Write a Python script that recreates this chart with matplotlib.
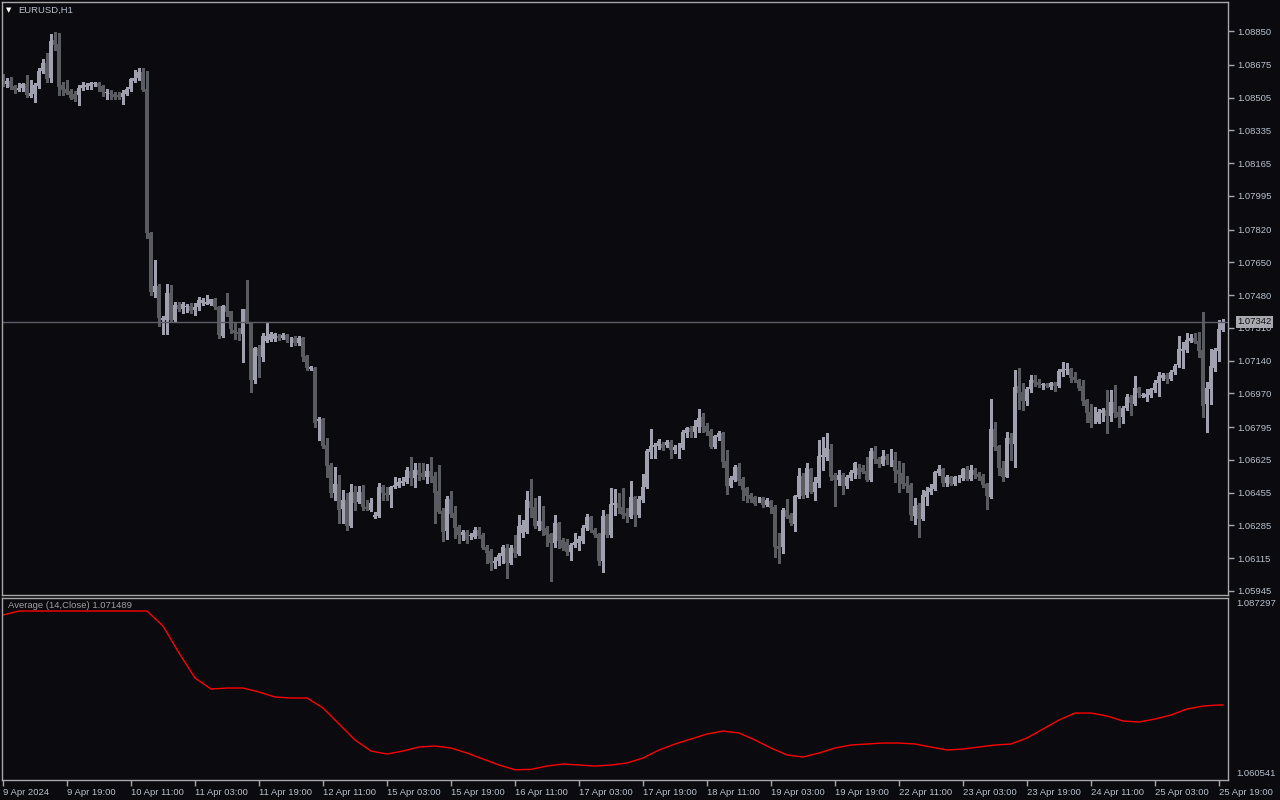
import matplotlib
matplotlib.use('Agg')
import matplotlib.pyplot as plt
import numpy as np

#----------------------------------------------------------
# EURUSD H1 candles, prices in points (x 1e-5)
opens=[108609,108575,108590,108564,108544,108556,108573,108512,108521,108564,
	108644,108685,108604,108803,108782,108570,108547,108540,108523,108518,
	108557,108561,108564,108575,108582,108564,108530,108530,108523,108518,
	108509,108526,108547,108592,108604,108639,108547,107803,107497,107526,
	107350,107350,107488,107350,107428,107410,107416,107423,107402,107416,
	107440,107436,107436,107457,107419,107269,107423,107397,107298,107289,
	107276,107405,107336,107039,107203,107160,107243,107246,107250,107267,
	107255,107272,107251,107255,107232,107255,107163,107097,107099,106827,
	106834,106701,106597,106454,106499,106367,106416,106281,106459,106407,
	106459,106381,106364,106329,106333,106485,106454,106442,106481,106488,
	106506,106511,106567,106529,106572,106554,106534,106568,106541,106463,
	106359,106257,106421,106347,106274,106234,106252,106229,106226,106260,
	106234,106170,106151,106087,106100,106126,106165,106091,106165,106136,
	106247,106252,106411,106381,106281,106307,106269,106240,106195,106298,
	106209,106200,106148,106183,106195,106205,106269,106330,106260,106240,
	106101,106333,106234,106390,106399,106378,106347,106330,106430,106338,
	106416,106485,106667,106693,106696,106707,106702,106719,106676,106684,
	106688,106766,106792,106771,106797,106849,106800,106774,106689,106745,
	106766,106620,106489,106520,106589,106523,106477,106442,106430,106420,
	106425,106390,106411,106378,106179,106170,106364,106338,106292,106433,
	106541,106440,106577,106459,106506,106638,106641,106679,106546,106520,
	106546,106489,106532,106554,106580,106584,106567,106520,106672,106631,
	106603,106646,106627,106624,106572,106558,106506,106494,106333,106390,
	106316,106433,106458,106473,106558,106577,106502,106537,106499,106528,
	106528,106577,106525,106572,106551,106541,106499,106433,106784,106696,
	106580,106537,106739,106707,107008,106977,106932,106990,107039,107028,
	107015,107018,107004,107023,107008,107082,107091,107098,107053,107039,
	107008,106935,106874,106825,106823,106870,106883,106852,106926,106874,
	106849,106892,106952,106914,106996,106957,106952,106961,106987,107022,
	107047,107065,107042,107082,107117,107191,107194,107243,107255,107241,
	107194,106914,106992,107103,107191,107298]
highs=[108627,108604,108613,108570,108578,108582,108621,108595,108578,108656,
	108703,108734,108834,108846,108838,108587,108595,108552,108540,108570,
	108587,108578,108587,108587,108587,108570,108552,108544,108535,108535,
	108544,108561,108604,108647,108656,108656,108644,107808,107661,107537,
	107371,107537,107532,107445,107445,107445,107433,107440,107440,107468,
	107466,107480,107462,107466,107423,107428,107488,107398,107333,107307,
	107405,107557,107341,107212,107220,107284,107333,107289,107284,107277,
	107281,107277,107263,107267,107267,107260,107168,107111,107108,106848,
	106840,106736,106606,106585,106545,106468,106454,106499,106488,106488,
	106494,106416,106424,106355,106506,106494,106485,106488,106537,106528,
	106537,106585,106641,106606,106610,106610,106603,106638,106563,106598,
	106373,106437,106463,106385,106286,106260,106260,106243,106274,106274,
	106243,106183,106160,106122,106143,106183,106188,106183,106234,106338,
	106312,106463,106523,106428,106437,106385,106281,106247,106338,106304,
	106217,106212,106191,106243,106229,106286,106343,106333,106269,106247,
	106364,106343,106477,106471,106451,106477,106373,106516,106437,106437,
	106551,106679,106783,106714,106731,106719,106727,106727,106702,106710,
	106779,106797,106800,106831,106887,106866,106814,106783,106753,106776,
	106771,106676,106541,106598,106610,106534,106485,106451,106437,106433,
	106433,106425,106416,106390,106247,106373,106421,106347,106442,106580,
	106554,106610,106580,106537,106727,106745,106762,106707,106554,106572,
	106554,106546,106572,106615,106603,106598,106641,106684,106696,106637,
	106676,106655,106679,106663,106620,106606,106541,106502,106425,106402,
	106468,106485,106499,106568,106598,106580,106546,106542,106541,106546,
	106584,106594,106598,106580,106563,106551,106506,106940,106823,106702,
	106618,106771,106762,107091,107099,107022,107004,107065,107065,107042,
	107025,107025,107030,107030,107094,107134,107125,107103,107082,107046,
	107039,106939,106914,106900,106887,106892,106987,106987,107013,106904,
	106904,106964,106961,107060,107001,106970,106990,106996,107039,107082,
	107073,107073,107091,107122,107267,107238,107281,107278,107284,107290,
	107390,107030,107198,107203,107350,107354]
lows=[108564,108561,108552,108531,108538,108540,108509,108506,108483,108557,
	108630,108587,108587,108751,108518,108518,108523,108500,108488,108466,
	108544,108547,108552,108564,108538,108514,108500,108500,108495,108500,
	108471,108518,108540,108587,108595,108540,107774,107480,107471,107319,
	107277,107277,107341,107341,107398,107385,107393,107385,107376,107402,
	107428,107431,107428,107410,107255,107263,107371,107281,107250,107246,
	107134,107333,106978,107021,107056,107139,107237,107243,107243,107246,
	107250,107237,107215,107220,107220,107139,107090,107090,106793,106727,
	106684,106537,106430,106416,106298,106295,106260,106274,106364,106398,
	106364,106364,106360,106321,106329,106416,106416,106381,106476,106481,
	106494,106502,106494,106482,106520,106523,106503,106511,106298,106347,
	106205,106212,106330,106217,106191,106209,106195,106212,106217,106217,
	106160,106087,106053,106061,106079,106087,106010,106084,106122,106131,
	106226,106243,106330,106269,106260,106234,106177,105997,106174,106165,
	106157,106131,106105,106174,106157,106191,106260,106252,106226,106079,
	106044,106226,106226,106338,106347,106321,106304,106321,106281,106330,
	106407,106477,106632,106632,106679,106676,106689,106632,106658,106632,
	106679,106745,106745,106745,106771,106771,106753,106684,106684,106728,
	106586,106447,106482,106516,106494,106416,106407,106407,106390,106407,
	106381,106385,106347,106122,106091,106139,106321,106286,106257,106425,
	106425,106433,106451,106416,106485,106572,106624,106520,106385,106494,
	106447,106477,106520,106529,106529,106554,106516,106516,106606,106589,
	106598,106603,106593,106511,106459,106477,106459,106312,106291,106226,
	106312,106390,106447,106468,106546,106489,106489,106494,106494,106511,
	106520,106520,106520,106529,106520,106482,106368,106425,106676,106546,
	106515,106534,106624,106589,106887,106883,106909,106978,107008,107001,
	106990,107001,106990,106983,107001,107060,107070,107030,107030,106987,
	106909,106823,106793,106817,106814,106828,106765,106828,106849,106797,
	106817,106883,106857,106909,106952,106949,106932,106952,106978,106956,
	107039,107022,107039,107070,107108,107099,107186,107238,107229,107160,
	106845,106771,106914,107087,107139,107295]
closes=[108578,108590,108561,108544,108557,108573,108518,108530,108570,108644,
	108685,108599,108798,108777,108561,108544,108530,108504,108500,108557,
	108570,108570,108578,108578,108561,108535,108531,108523,108509,108509,
	108530,108547,108599,108609,108639,108544,107800,107497,107526,107359,
	107359,107488,107350,107428,107405,107433,107423,107398,107419,107454,
	107454,107445,107457,107416,107272,107423,107393,107302,107284,107276,
	107405,107336,107039,107203,107163,107267,107267,107277,107277,107255,
	107272,107246,107251,107232,107255,107160,107099,107104,106814,106834,
	106696,106592,106454,106499,106364,106416,106281,106459,106402,106459,
	106381,106367,106402,106338,106485,106450,106442,106485,106494,106511,
	106516,106571,106529,106572,106546,106537,106568,106534,106454,106356,
	106252,106421,106343,106272,106234,106252,106209,106230,106260,106231,
	106169,106139,106087,106100,106131,106170,106091,106165,106139,106281,
	106286,106416,106373,106281,106307,106260,106234,106191,106295,106205,
	106165,106148,106183,106200,106214,106272,106330,106260,106234,106101,
	106333,106234,106395,106399,106373,106338,106333,106430,106338,106420,
	106485,106670,106696,106702,106722,106684,106719,106676,106693,106685,
	106771,106792,106771,106800,106843,106793,106771,106693,106748,106766,
	106615,106489,106532,106589,106516,106468,106437,106420,106395,106420,
	106390,106416,106373,106174,106162,106364,106330,106295,106437,106541,
	106437,106580,106456,106511,106644,106650,106688,106537,106520,106546,
	106489,106537,106563,106610,106546,106563,106520,106672,106627,106603,
	106644,106624,106627,106568,106551,106499,106489,106338,106385,106316,
	106442,106463,106477,106563,106577,106502,106537,106499,106537,106529,
	106577,106525,106572,106546,106534,106494,106437,106784,106693,106580,
	106537,106739,106707,107001,106973,106932,106992,107039,107025,107013,
	107018,107008,107025,107008,107087,107094,107091,107047,107039,106996,
	106932,106869,106817,106828,106874,106883,106852,106926,106869,106849,
	106895,106952,106921,106996,106973,106958,106966,106990,107025,107060,
	107065,107042,107082,107111,107198,107198,107246,107255,107238,107191,
	106904,106996,107111,107194,107302,107342]

# Average(14,Close), read every 4th bar + last bar
ma_bar=list(range(0, 305, 4))+[305]
ma_val=[108663,108730,108730,108730,108730,108730,108730,108730,108730,108730,
	108478,108023,107602,107417,107434,107434,107367,107283,107266,107266,
	107098,106828,106559,106374,106323,106374,106441,106458,106424,106340,
	106239,106138,106058,106065,106121,106155,106138,106121,106138,106172,
	106256,106391,106492,106576,106660,106710,106677,106559,106424,106307,
	106273,106340,106424,106475,106492,106508,106508,106492,106441,106391,
	106407,106441,106475,106492,106593,106744,106896,107013,107013,106963,
	106879,106862,106912,106980,107081,107131,107149,107149]
ma_last=1.071489

price_ticks=[1.08850,1.08675,1.08505,1.08335,1.08165,1.07995,1.07820,1.07650,1.07480,
	1.07310,1.07140,1.06970,1.06795,1.06625,1.06455,1.06285,1.06115,1.05945]
time_labels=['9 Apr 2024','9 Apr 19:00','10 Apr 11:00','11 Apr 03:00','11 Apr 19:00',
	'12 Apr 11:00','15 Apr 03:00','15 Apr 19:00','16 Apr 11:00','17 Apr 03:00',
	'17 Apr 19:00','18 Apr 11:00','19 Apr 03:00','19 Apr 19:00','22 Apr 11:00',
	'23 Apr 03:00','23 Apr 19:00','24 Apr 11:00','25 Apr 03:00','25 Apr 19:00']
time_bar=list(range(0, 305, 16))
last_price=1.07342
ma_max=1.087297
ma_min=1.060541

#----------------------------------------------------------
c_bg='#0a0a0f'
c_frame='#a8a8a8'
c_txt='#b8c0cc'
c_bull='#a0a0ae'
c_bear='#5a5a61'
W, H=1280, 800
fnt=['Liberation Sans', 'DejaVu Sans']
fs=6.8
plt.rcParams['font.family']=fnt

o=np.array(opens)/1e5
h=np.array(highs)/1e5
l=np.array(lows)/1e5
c=np.array(closes)/1e5
x=np.arange(len(o))
up=c>=o
col=np.where(up, c_bull, c_bear)

fig=plt.figure(figsize=(W/100, H/100), dpi=100, facecolor=c_bg)
ax=fig.add_axes([2/W, 1-595/H, 1226/W, 593/H], facecolor=c_bg)
ax2=fig.add_axes([2/W, 1-780/H, 1226/W, 182/H], facecolor=c_bg)

#main candles
ax.vlines(x, l, h, colors=col, linewidth=1, antialiased=False)
body=np.maximum(np.abs(c-o), 0.00003)
ax.bar(x, body, bottom=np.minimum(o, c), width=0.78, color=col, linewidth=0, antialiased=False)
ax.axhline(last_price, color='#5e5e6a', linewidth=1)

ax.set_xlim(-0.25, 306.25)
ax.set_ylim(1.05923, 1.09001)
ax.yaxis.tick_right()
ax.set_yticks(price_ticks)
ax.set_yticklabels([f'{v:.5f}' for v in price_ticks])
ax.tick_params(axis='y', direction='out', length=4, width=1, color=c_frame, labelcolor=c_txt, labelsize=fs, pad=3)
ax.set_xticks([])
for s in ax.spines.values():
	s.set_color(c_frame)
	s.set_linewidth(1)
ax.text(1.0+9/1226, last_price, f'{last_price:.5f}', transform=ax.get_yaxis_transform(), ha='left', va='center',
	fontsize=fs, color='#101010', bbox=dict(boxstyle='square,pad=0.15', fc='#a8a8b0', ec='none'))

fig.text(6/W, 1-10/H, '\u25bc', color='white', fontsize=5, va='center', ha='left', family='DejaVu Sans')
fig.text(18/W, 1-10/H, 'EURUSD,H1', color=c_txt, fontsize=fs, va='center', ha='left')

#indicator
ax2.plot(ma_bar, np.array(ma_val)/1e5, color='#ff0000', linewidth=1)
ax2.set_xlim(-0.25, 306.25)
ax2.set_ylim(1.05886, 1.08949)
ax2.set_yticks([])
ax2.set_xticks(time_bar)
ax2.set_xticklabels(time_labels, ha='left')
ax2.tick_params(axis='x', direction='out', length=4, width=1, color=c_frame, labelcolor=c_txt, labelsize=fs, pad=2)
for s in ax2.spines.values():
	s.set_color(c_frame)
	s.set_linewidth(1)
ax2.text(6/1226, 1-8/182, f'Average (14,Close) {ma_last:.6f}', transform=ax2.transAxes,
	color='#a0a0a0', fontsize=fs, va='center', ha='left')
ax2.text(1+8/1226, 1-6/182, f'{ma_max:.6f}', transform=ax2.transAxes, color=c_txt, fontsize=fs, va='center', ha='left')
ax2.text(1+8/1226, 7/182, f'{ma_min:.6f}', transform=ax2.transAxes, color=c_txt, fontsize=fs, va='center', ha='left')

fig.savefig('out.png', dpi=100, facecolor=c_bg)
